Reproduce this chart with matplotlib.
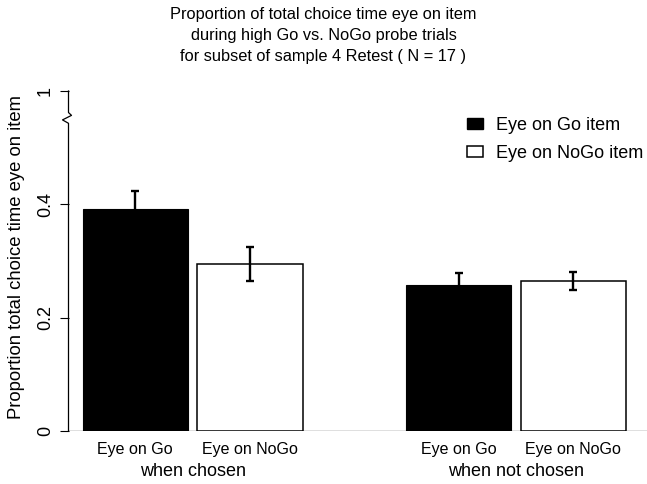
import matplotlib.pyplot as plt
from matplotlib.patches import Patch

plt.rcParams['font.family'] = ['Liberation Sans', 'DejaVu Sans']

# proportion of choice time with eye on each item, mean and SEM
groups = ["when chosen", "when not chosen"]
bar_names = ["Eye on Go", "Eye on NoGo"]
go_mean = [0.392, 0.258]
go_sem = [0.031, 0.021]
nogo_mean = [0.294, 0.265]
nogo_sem = [0.030, 0.016]
legend_labels = ["Eye on Go item", "Eye on NoGo item"]

# y axis is broken: the top tick stands for 1
ytick_pos = [0, 0.2, 0.4, 0.6]
ytick_labels = ["0", "0.2", "0.4", "1"]

width = 1.0
inner_gap = 0.09
group_gap = 0.98

go_x = []
nogo_x = []
for g in range(len(groups)):
    start = g * (2 * width + inner_gap + group_gap)
    go_x.append(start)
    nogo_x.append(start + width + inner_gap)

fig = plt.figure(figsize=(6.47, 4.84), dpi=100)
ax = fig.add_axes([68.5 / 647, 1 - 431 / 484, 1 - 68.5 / 647, 340 / 484])

ax.axhline(0, color='black', lw=0.9, zorder=1)
ax.bar(go_x, go_mean, width=width, color='black', edgecolor='black', lw=0.8, zorder=2)
ax.bar(nogo_x, nogo_mean, width=width, color='white', edgecolor='black', lw=1.1, zorder=2)
err_style = dict(fmt='none', ecolor='black', elinewidth=1.7, capsize=2.9, capthick=1.7, zorder=3)
ax.errorbar(go_x, go_mean, yerr=go_sem, **err_style)
ax.errorbar(nogo_x, nogo_mean, yerr=nogo_sem, **err_style)

ax.set_xlim(go_x[0] - width / 2 - 0.134, nogo_x[-1] + width / 2 + 0.2)
ax.set_ylim(0, 0.6)

for s in ['top', 'right', 'bottom', 'left']:
    ax.spines[s].set_visible(False)

# left axis line with a zigzag break just below the top
tr = ax.get_yaxis_transform()
dx = 1 / 578.5
brk_hi, brk_lo = 0.562, 0.543
ax.plot([0, 0, 3 * dx, -6 * dx, 0, 0],
        [0.6, brk_hi, brk_hi - 0.005, brk_lo + 0.006, brk_lo, 0],
        color='black', lw=0.9, transform=tr, clip_on=False)

ax.set_yticks(ytick_pos)
ax.set_yticklabels(ytick_labels, rotation=90, va='center')
ax.tick_params(axis='y', length=6.5, width=0.8, pad=4, labelsize=13)

ax.set_xticks(go_x + nogo_x)
ax.set_xticklabels([bar_names[0]] * len(go_x) + [bar_names[1]] * len(nogo_x))
ax.tick_params(axis='x', length=0, pad=8, labelsize=11.5)

for g, name in enumerate(groups):
    mid = (go_x[g] + nogo_x[g]) / 2
    ax.text(mid, -0.118, name, transform=ax.get_xaxis_transform(),
            ha='center', va='center', fontsize=13)

ax.set_ylabel("Proportion total choice time eye on item", fontsize=13.3)
ax.yaxis.set_label_coords(-0.075, 0.512)

handles = [Patch(facecolor='black', edgecolor='black'),
           Patch(facecolor='white', edgecolor='black', lw=1.1)]
ax.legend(handles, legend_labels, loc='upper left', bbox_to_anchor=(467 / 647, 1 - 117 / 484),
          bbox_transform=fig.transFigure, frameon=False, fontsize=13,
          handlelength=0.9, handleheight=0.6, handletextpad=0.7,
          borderpad=0, borderaxespad=0, labelspacing=0.6)

fig.text(0.5, 1 - 7 / 484,
         "Proportion of total choice time eye on item\n"
         "during high Go vs. NoGo probe trials\n"
         "for subset of sample 4 Retest ( N = 17 )",
         ha='center', va='top', fontsize=11.8, linespacing=1.5)

fig.savefig('out.png', dpi=100)
